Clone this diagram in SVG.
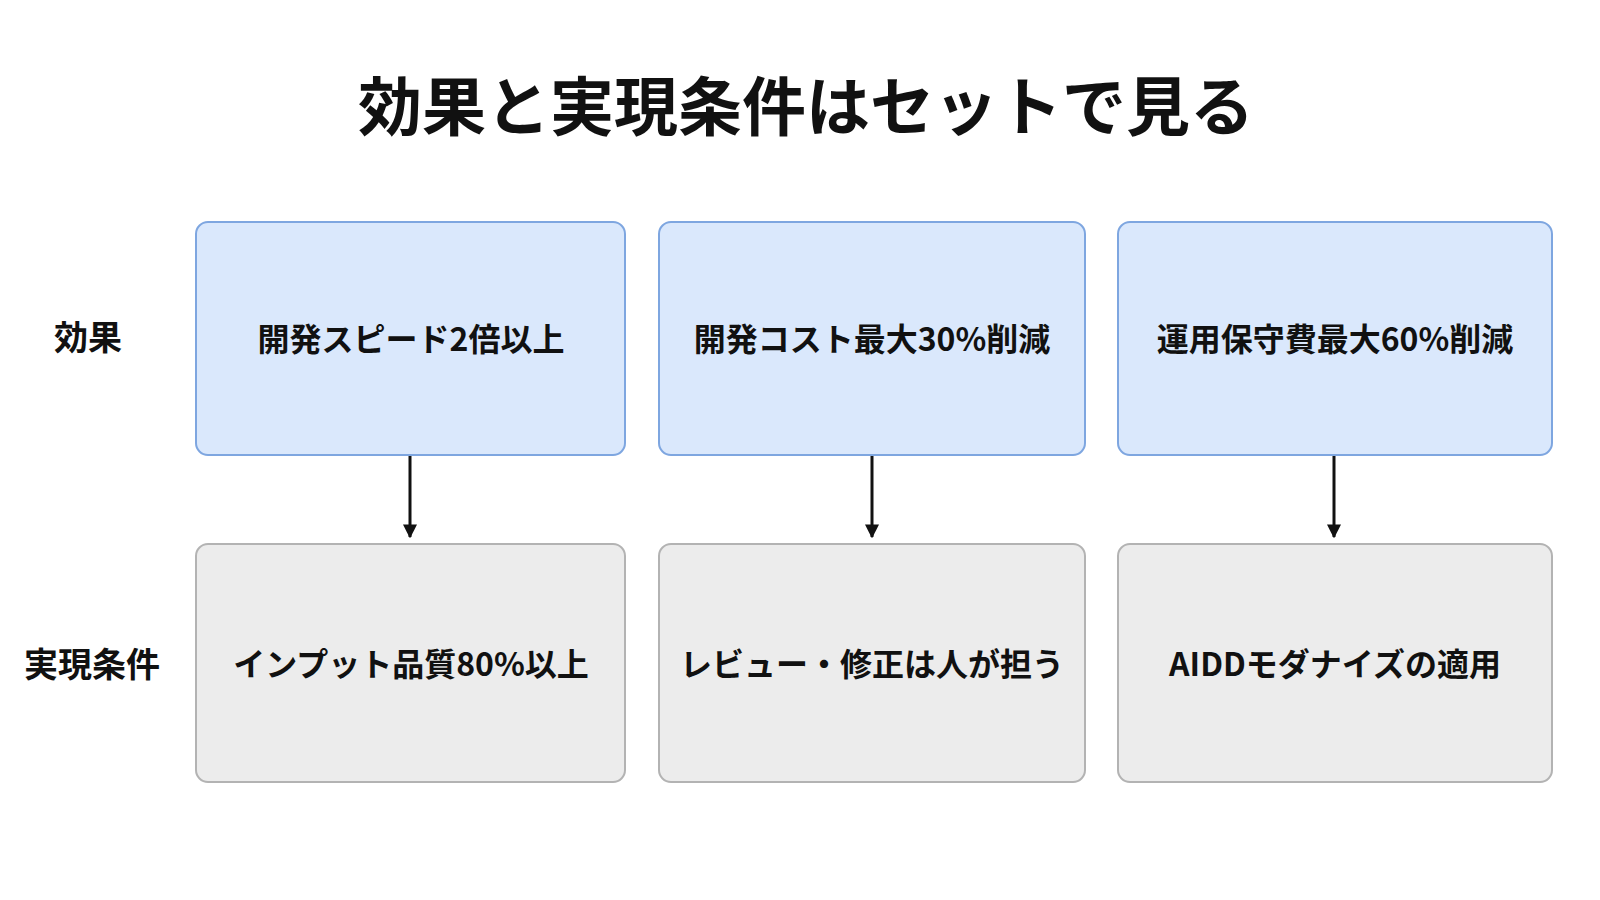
<svg xmlns="http://www.w3.org/2000/svg" width="1600" height="900" viewBox="0 0 1600 900">
<defs>
<style>
text{font-family:"Noto Sans CJK JP","Noto Sans",sans-serif;font-weight:bold;fill:#111;text-anchor:middle;dominant-baseline:central}
.t{font-size:64px}
.l{font-size:34px}
.n{font-size:32px}
.e{fill:#dae8fc;stroke:#7ea6e0;stroke-width:2}
.c{fill:#ececec;stroke:#b3b3b3;stroke-width:2}
.a{stroke:#111;stroke-width:3;fill:none;marker-end:url(#ah)}
</style>
<marker id="ah" viewBox="0 0 10 10" refX="9" refY="5" markerWidth="14" markerHeight="14" markerUnits="userSpaceOnUse" orient="auto"><path d="M0,0L10,5L0,10z" fill="#111"/></marker>
</defs>
<rect width="1600" height="900" fill="#fff"/>
<text class="t" x="806" y="102">効果と実現条件はセットで見る</text>
<text class="l" x="88" y="335">効果</text>
<text class="l" x="92" y="662">実現条件</text>
<g id="e1"><rect class="e" x="196" y="222" width="429" height="233" rx="12"/><text class="n" x="411" y="337">開発スピード2倍以上</text></g>
<g id="e2"><rect class="e" x="659" y="222" width="426" height="233" rx="12"/><text class="n" x="872" y="337">開発コスト最大30%削減</text></g>
<g id="e3"><rect class="e" x="1118" y="222" width="434" height="233" rx="12"/><text class="n" x="1335" y="337">運用保守費最大60%削減</text></g>
<g id="c1"><rect class="c" x="196" y="544" width="429" height="238" rx="12"/><text class="n" x="411" y="662">インプット品質80%以上</text></g>
<g id="c2"><rect class="c" x="659" y="544" width="426" height="238" rx="12"/><text class="n" x="872" y="662">レビュー・修正は人が担う</text></g>
<g id="c3"><rect class="c" x="1118" y="544" width="434" height="238" rx="12"/><text class="n" x="1335" y="662">AIDDモダナイズの適用</text></g>
<g id="connectors">
<line class="a" x1="410" y1="456" x2="410" y2="537"/>
<line class="a" x1="872" y1="456" x2="872" y2="537"/>
<line class="a" x1="1334" y1="456" x2="1334" y2="537"/>
</g>
</svg>
